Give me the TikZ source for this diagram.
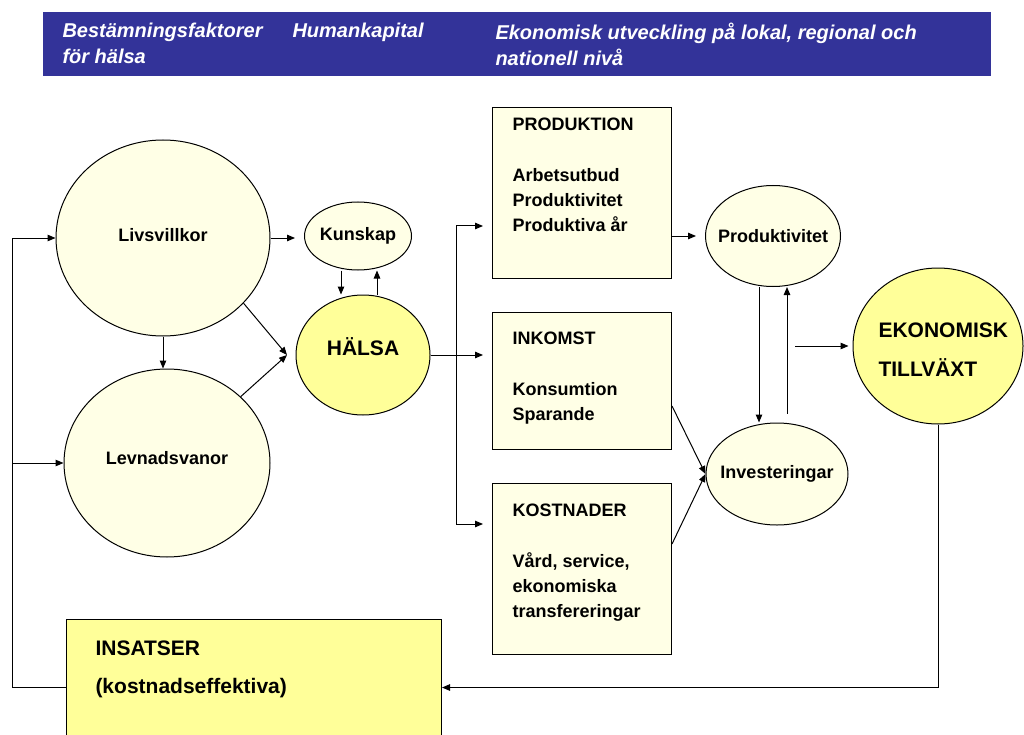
\documentclass[tikz,border=0pt]{standalone}
\usepackage{fontspec}
\setmainfont{Liberation Sans}
\usetikzlibrary{shapes.geometric,arrows.meta}
\definecolor{blaband}{HTML}{333399}
\definecolor{ljusgul}{HTML}{FFFFE6}
\definecolor{gul}{HTML}{FFFF99}
\begin{document}
\begin{tikzpicture}[x=1pt,y=-1pt,>={Triangle[length=8pt,width=6.5pt]},line width=1pt,
	font=\fontsize{18}{25}\selectfont\bfseries,
	oval/.style={ellipse,draw,fill=ljusgul,inner sep=0pt},
	ruta/.style={rectangle,draw,fill=ljusgul,inner sep=0pt,anchor=north west},
	txt/.style={anchor=north west,inner sep=0pt,align=left},
	rubrik/.style={txt,text=white,font=\fontsize{20}{26}\selectfont\bfseries\itshape}]
	\clip (0,0) rectangle (1024,735);
	% rubrikband
	\node[fill=blaband,anchor=north west,inner sep=0pt,minimum width=948,minimum height=64] (band) at (42,12) {};
	\node[rubrik] (h1) at (62,23) {Bestämningsfaktorer\\för hälsa};
	\node[rubrik] (h2) at (292,23) {Humankapital};
	\node[rubrik] (h3) at (495,23) {Ekonomisk utveckling på lokal, regional och\\nationell nivå};
	% ellipser
	\node[oval,minimum width=214,minimum height=196,label={[yshift=3]center:Livsvillkor}] (livs) at (163,238) {};
	\node[oval,minimum width=206,minimum height=188,label={[yshift=5]center:Levnadsvanor}] (lev) at (167,463) {};
	\node[oval,minimum width=107,minimum height=68,label={center:Kunskap}] (kun) at (358,236) {};
	\node[oval,fill=gul,minimum width=134,minimum height=120,label={[yshift=8,font=\fontsize{21}{25}\selectfont\bfseries]center:HÄLSA}] (halsa) at (363,355) {};
	\node[oval,minimum width=135,minimum height=101,label={center:Produktivitet}] (pdv) at (773,236) {};
	\node[oval,minimum width=142,minimum height=102,label={center:Investeringar}] (inv) at (777,474) {};
	\node[oval,fill=gul,minimum width=170,minimum height=156] (ek) at (938,346) {};
	\node[txt,font=\fontsize{21}{39}\selectfont\bfseries] (ektxt) at (878,322) {EKONOMISK\\TILLVÄXT};
	% rutor
	\node[ruta,minimum width=179,minimum height=171] (prod) at (492,107) {};
	\node[txt] (prodtxt) at (512,117) {PRODUKTION\\[26pt]Arbetsutbud\\Produktivitet\\Produktiva år};
	\node[ruta,minimum width=179,minimum height=137] (ink) at (492,312) {};
	\node[txt] (inktxt) at (512,331) {INKOMST\\[26pt]Konsumtion\\Sparande};
	\node[ruta,minimum width=179,minimum height=171] (kost) at (492,483) {};
	\node[txt] (kosttxt) at (512,503) {KOSTNADER\\[26pt]Vård, service,\\ekonomiska\\transfereringar};
	\node[ruta,fill=gul,minimum width=375,minimum height=136] (ins) at (66,619) {};
	\node[txt,font=\fontsize{21}{38}\selectfont\bfseries] (instxt) at (95,640) {INSATSER\\(kostnadseffektiva)};
	% hjälppunkter
	\coordinate (hin) at (287,355);
	\coordinate (fork) at (456,355);
	\coordinate (fork1) at (456,226);
	\coordinate (fork3) at (456,524);
	\coordinate (ekin) at (795,346);
	\coordinate (vkant) at (12,0);
	\coordinate (kned) at (341,0);
	\coordinate (kupp) at (377,0);
	\coordinate (pned) at (759,0);
	\coordinate (pupp) at (787,0);
	% pilar
	\draw[->,shorten >=9pt] (livs.east) -- (livs.east -| kun.west);
	\draw[->] (livs.south) -- (livs.south |- lev.north);
	\draw[->] (livs.-39) -- (hin);
	\draw[->] (lev.42) -- (hin);
	\draw[->] (kned |- kun.south) -- (kned |- halsa.north);
	\draw[->] (kupp |- halsa.north) -- (kupp |- kun.south);
	\draw (halsa.east) -- (fork);
	\draw (fork1) -- (fork3);
	\draw[->,shorten >=9pt] (fork1) -- (fork1 -| prod.west);
	\draw[->,shorten >=9pt] (fork) -- (fork -| ink.west);
	\draw[->,shorten >=9pt] (fork3) -- (fork3 -| kost.west);
	\draw[->,shorten >=9pt] (prod.east |- pdv.west) -- (pdv.west);
	\draw[->] (pned |- pdv.south) -- (pned |- inv.north);
	\draw[->,shorten <=9pt] (pupp |- inv.north) -- (pupp |- pdv.south);
	\draw[->] ([yshift=-25pt]ink.east) -- (inv.west);
	\draw[->] ([yshift=25pt]kost.east) -- (inv.west);
	\draw[->,shorten >=4pt] (ekin) -- (ek.west);
	\draw[->] (ek.south) |- (ins.east);
	\draw[->] (ins.west) -| (vkant |- livs.west) -- (livs.west);
	\draw[->] (vkant |- lev.west) -- (lev.west);
\end{tikzpicture}
\end{document}
